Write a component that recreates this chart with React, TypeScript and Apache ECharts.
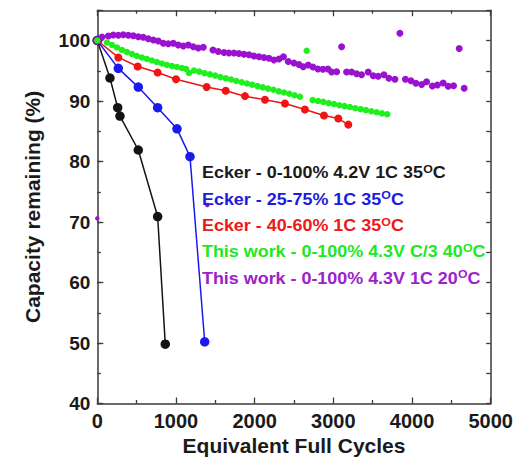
import React, { useEffect, useRef } from "react";
import * as echarts from "echarts";

const FONT = "'Liberation Sans', Arial, Helvetica, sans-serif";

// Ecker - 0-100% 4.2V 1C 35°C
const blackCycles = [0, 161, 259, 288, 521, 767, 864];
const blackCapacity = [100, 93.8, 88.9, 87.5, 81.9, 70.9, 49.8];

// Ecker - 25-75% 1C 35°C
const blueCycles = [0, 267, 521, 767, 1013, 1178, 1365];
const blueCapacity = [100, 95.4, 92.3, 88.9, 85.4, 80.8, 50.2];

// Ecker - 40-60% 1C 35°C
const redCycles = [0, 267, 513, 767, 1000, 1390, 1632, 1877, 2131, 2385, 2639, 2881, 3063, 3190];
const redCapacity = [100, 97.2, 95.7, 94.7, 93.6, 92.3, 91.7, 90.8, 90.2, 89.6, 88.6, 87.6, 87.1, 86.1];

// This work - 0-100% 4.3V C/3 40°C
const greenCycles = [
  0, 123, 187, 250, 314, 377, 441, 504, 568, 631, 695, 758, 822, 886, 949, 1013, 1076, 1127,
  1165,
  1229, 1296, 1363, 1431, 1498, 1565, 1633, 1700, 1767, 1835, 1902, 1969, 2037, 2104, 2171, 2239, 2306, 2373, 2441, 2508, 2576,
  2661,
  2737, 2805, 2872, 2940, 3008, 3076, 3143, 3211, 3279, 3347, 3414, 3482, 3550, 3617, 3685,
];
const greenCapacity = [
  100, 99.67, 99.26, 98.84, 98.43, 98.1, 97.77, 97.44, 97.19, 96.94, 96.69, 96.45, 96.2, 95.95, 95.79, 95.62, 95.45, 95.3,
  94.63,
  95.04, 94.85, 94.6, 94.4, 94.2, 93.95, 93.75, 93.55, 93.3, 93.1, 92.9, 92.7, 92.45, 92.25, 92.05, 91.85, 91.6, 91.4, 91.2, 90.95, 90.7,
  98.31,
  90.15, 90.0, 89.85, 89.65, 89.5, 89.3, 89.15, 89.0, 88.8, 88.65, 88.5, 88.3, 88.15, 87.95, 87.8,
];

// This work - 0-100% 4.3V 1C 20°C
const purpleCycles = [
  0, 60, 140, 203, 267, 330, 394, 457, 521, 584, 648, 712, 775, 839, 902, 966, 1029, 1093, 1156, 1220, 1283, 1347,
  1470, 1537, 1610, 1673, 1737, 1800, 1864, 1928, 1991, 2055, 2118, 2182, 2245, 2309, 2366, 2427, 2499, 2563, 2617,
  2681, 2741, 2804, 2868, 2931, 2978, 3042, 3105, 3169, 3232, 3296, 3359, 3443, 3507, 3570, 3643, 3706, 3783, 3846,
  3916, 3986, 4049, 4122, 4185, 4259, 4323, 4396, 4460, 4528, 4600, 4663,
];
const purpleCapacity = [
  100, 100.58, 100.74, 100.91, 100.86, 100.96, 100.86, 100.79, 100.63, 100.53, 100.3, 100.08, 99.92, 99.54, 99.47, 99.54, 99.26, 99.09, 99.26, 98.98, 98.76, 98.88,
  98.43, 98.18, 98.02, 97.93, 97.93, 97.85, 97.74, 97.64, 97.44, 97.32, 97.19, 97.06, 96.78, 96.94, 97.32, 96.53, 96.28, 96.03, 95.67,
  95.95, 95.62, 95.29, 95.24, 95.29, 94.79, 94.84, 98.98, 94.79, 94.79, 94.5, 94.35, 94.79, 94.17, 94.08, 94.35, 93.75, 93.59, 101.19,
  93.6, 93.34, 92.93, 92.73, 93.19, 92.48, 92.64, 92.98, 92.43, 92.53, 98.68, 92.1,
];
const purpleSmallCycles = [0, 1398];
const purpleSmallCapacity = [70.6, 72.8];

const xTicks = { min: 0, max: 5000, interval: 1000 };
const yTicks = { min: 40, max: 105, interval: 10, minorInterval: 5 };

const legendLines = [
  { text: "Ecker - 0-100% 4.2V 1C 35{s|O}C", color: "#1a1a1a" },
  { text: "Ecker - 25-75% 1C 35{s|O}C", color: "#1c1ce0" },
  { text: "Ecker - 40-60% 1C 35{s|O}C", color: "#ee1818" },
  { text: "This work - 0-100% 4.3V C/3 40{s|O}C", color: "#1ee81e" },
  { text: "This work - 0-100% 4.3V 1C 20{s|O}C", color: "#9b22c8" },
];

const COLORS = {
  black: "#141414",
  blue: "#1a1aee",
  red: "#f01414",
  green: "#1ef01e",
  purple: "#9a12d0",
};

function zip(xs: number[], ys: number[]) {
  return xs.map((x, i) => [x, ys[i]]);
}

const axisColor = "#3a3a3a";

export default function App() {
  const ref = useRef<HTMLDivElement>(null);
  useEffect(() => {
    if (!ref.current) return;
    const chart = echarts.init(ref.current, null, { renderer: "svg" });
    const baseTick = { show: true, inside: true, lineStyle: { color: axisColor, width: 1.3 } };
    const baseLine = { show: true, onZero: false, lineStyle: { color: axisColor, width: 1.5 } };
    const option: any = {
      animation: false,
      backgroundColor: "#ffffff",
      grid: { left: 97.3, right: 40.3, top: 10.25, bottom: 65.5, containLabel: false },
      xAxis: [
        {
          type: "value",
          position: "bottom",
          min: xTicks.min,
          max: xTicks.max,
          interval: xTicks.interval,
          axisLine: baseLine,
          axisTick: { ...baseTick, length: 6 },
          minorTick: { show: true, splitNumber: 2, length: 3.5, lineStyle: { color: axisColor, width: 1.3 } },
          axisLabel: {
            fontSize: 20,
            fontWeight: "bold",
            color: "#1a1a1a",
            margin: 7,
            fontFamily: FONT,
            formatter: (v: number) => String(v),
          },
          splitLine: { show: false },
          minorSplitLine: { show: false },
          name: "Equivalent Full Cycles",
          nameLocation: "middle",
          nameGap: 31,
          nameTextStyle: { fontSize: 21, fontWeight: "bold", color: "#1a1a1a", fontFamily: FONT },
        },
        {
          type: "value",
          position: "top",
          min: xTicks.min,
          max: xTicks.max,
          interval: xTicks.interval,
          axisLine: baseLine,
          axisTick: { ...baseTick, length: 6 },
          minorTick: { show: true, splitNumber: 2, length: 3.5, lineStyle: { color: axisColor, width: 1.3 } },
          axisLabel: { show: false },
          splitLine: { show: false },
        },
      ],
      yAxis: [
        {
          type: "value",
          position: "left",
          min: yTicks.min,
          max: yTicks.max,
          interval: yTicks.interval,
          axisLine: baseLine,
          axisTick: { ...baseTick, length: 6 },
          axisLabel: {
            fontSize: 19,
            fontWeight: "bold",
            color: "#1a1a1a",
            margin: 7,
            fontFamily: FONT,
            formatter: (v: number) => (v > 100 ? "" : String(v)),
          },
          splitLine: { show: false },
          name: "Capacity remaining (%)",
          nameLocation: "middle",
          nameGap: 54,
          nameTextStyle: { fontSize: 21, fontWeight: "bold", color: "#1a1a1a", fontFamily: FONT },
        },
        {
          type: "value",
          position: "left",
          min: yTicks.min,
          max: yTicks.max,
          interval: yTicks.minorInterval,
          axisLine: { show: false },
          axisTick: { ...baseTick, length: 3.5 },
          axisLabel: { show: false },
          splitLine: { show: false },
        },
        {
          type: "value",
          position: "right",
          min: yTicks.min,
          max: yTicks.max,
          interval: yTicks.minorInterval,
          axisLine: baseLine,
          axisTick: { ...baseTick, length: 4.5 },
          axisLabel: { show: false },
          splitLine: { show: false },
        },
      ],
      series: [
        {
          type: "line",
          data: zip(blackCycles, blackCapacity),
          symbol: "circle",
          symbolSize: 9.5,
          itemStyle: { color: COLORS.black },
          lineStyle: { color: COLORS.black, width: 1.5 },
          z: 3,
        },
        {
          type: "line",
          data: zip(blueCycles, blueCapacity),
          symbol: "circle",
          symbolSize: 9.5,
          itemStyle: { color: COLORS.blue },
          lineStyle: { color: COLORS.blue, width: 1.5 },
          z: 3,
        },
        {
          type: "line",
          data: zip(redCycles, redCapacity),
          symbol: "circle",
          symbolSize: 8,
          itemStyle: { color: COLORS.red },
          lineStyle: { color: COLORS.red, width: 1.5 },
          z: 4,
        },
        {
          type: "scatter",
          data: zip(greenCycles, greenCapacity),
          symbol: "circle",
          symbolSize: 6.5,
          itemStyle: { color: COLORS.green, opacity: 1 },
          z: 5,
        },
        {
          type: "scatter",
          data: zip(purpleCycles, purpleCapacity),
          symbol: "circle",
          symbolSize: 7,
          itemStyle: { color: COLORS.purple, opacity: 1 },
          z: 4,
        },
        {
          type: "scatter",
          data: zip(purpleSmallCycles, purpleSmallCapacity),
          symbol: "circle",
          symbolSize: 4.5,
          itemStyle: { color: COLORS.purple, opacity: 1 },
          z: 4,
        },
      ],
      graphic: legendLines.map((l, i) => ({
        type: "text",
        x: 202,
        y: 173 + i * 26.4,
        scaleX: 1.12,
        z: 10,
        style: {
          text: l.text,
          fill: l.color,
          fontSize: 16,
          fontWeight: "bold",
          fontFamily: FONT,
          verticalAlign: "middle",
          align: "left",
          rich: {
            s: { fontSize: 11, fontWeight: "bold", fill: l.color, fontFamily: FONT, padding: [0, 0, 9, 0] },
          },
        },
      })),
    };
    chart.setOption(option);
    return () => chart.dispose();
  }, []);
  return (
    <div
      ref={ref}
      style={{ position: "fixed", left: 0, top: 0, width: 531, height: 469, background: "#ffffff" }}
    />
  );
}
